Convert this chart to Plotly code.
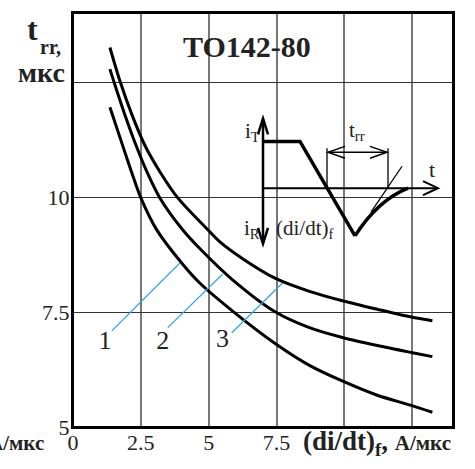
import plotly.graph_objects as go

# ---------------- data ----------------
x_curve1 = [1.36, 1.84, 2.17, 2.50, 3.08, 4.01, 4.67, 5.88, 7.46, 8.71, 9.96, 11.21, 12.46, 13.24]
y_curve1 = [11.95, 11.10, 10.52, 9.98, 9.29, 8.56, 8.13, 7.52, 6.81, 6.34, 5.99, 5.69, 5.47, 5.32]

x_curve2 = [1.36, 1.51, 1.91, 2.35, 2.72, 3.20, 4.01, 4.67, 5.88, 7.46, 8.71, 9.96, 11.21, 12.46, 13.24]
y_curve2 = [12.78, 12.50, 11.79, 11.08, 10.55, 9.98, 9.31, 8.88, 8.20, 7.50, 7.16, 6.94, 6.77, 6.62, 6.53]

x_curve3 = [1.36, 1.73, 2.17, 2.65, 3.20, 3.86, 4.93, 5.40, 6.25, 7.46, 8.71, 9.96, 11.21, 12.46, 13.24]
y_curve3 = [13.25, 12.52, 11.79, 11.12, 10.55, 9.98, 9.31, 9.03, 8.66, 8.23, 7.95, 7.74, 7.56, 7.39, 7.31]

curve_labels = ["1", "2", "3"]
label_x = [1.18, 3.31, 5.51]
label_y = [6.83, 6.83, 6.87]
leader_x = [[1.43, 3.93], [3.49, 5.51], [5.85, 7.72]]
leader_y = [[7.09, 8.56], [7.16, 8.32], [7.05, 8.13]]

x_tickvals = [0, 2.5, 5, 7.5, 10, 12.5]
x_ticktext = ["0", "2.5", "5", "7.5", "", ""]
y_tickvals = [5, 7.5, 10, 12.5]
y_ticktext = ["5", "7.5", "10", ""]

title_text = "TO142-80"

# ---------------- layout helpers ----------------
W, H = 475, 469
L, R, T, B = 73, 453, 11, 427
FONT = "Liberation Serif"
CYAN = "#29abe2"


def P(px, py):
    return ((px - L) / (R - L), (B - py) / (B - T))


def path(points):
    s = ""
    for i, (px, py) in enumerate(points):
        x, y = P(px, py)
        s += ("M" if i == 0 else "L") + f"{x:.5f},{y:.5f} "
    return s.strip()


def qpath(p0, c, p1):
    x0, y0 = P(*p0)
    cx, cy = P(*c)
    x1, y1 = P(*p1)
    return f"M{x0:.5f},{y0:.5f} Q{cx:.5f},{cy:.5f} {x1:.5f},{y1:.5f}"


fig = go.Figure()

for xs, ys in [(x_curve1, y_curve1), (x_curve2, y_curve2), (x_curve3, y_curve3)]:
    fig.add_trace(go.Scatter(x=xs, y=ys, mode="lines",
                             line=dict(color="black", width=3, shape="spline", smoothing=0.8),
                             hoverinfo="skip", showlegend=False))

for lx, ly in zip(leader_x, leader_y):
    fig.add_trace(go.Scatter(x=lx, y=ly, mode="lines", line=dict(color=CYAN, width=1.3),
                             hoverinfo="skip", showlegend=False))

fig.add_trace(go.Scatter(x=label_x, y=label_y, mode="text", text=curve_labels,
                         textfont=dict(family=FONT, size=26, color="#222"),
                         hoverinfo="skip", showlegend=False))

shapes = []
# white boxes that interrupt the grid
bx0, by0 = P(240, 109)
bx1, by1 = P(452, 251)
shapes.append(dict(type="rect", xref="paper", yref="paper", x0=bx0, y0=by1, x1=bx1, y1=by0,
                   fillcolor="white", line=dict(width=0), layer="between"))
tx0, ty0 = P(182, 24)
tx1, ty1 = P(330, 68)
shapes.append(dict(type="rect", xref="paper", yref="paper", x0=tx0, y0=ty1, x1=tx1, y1=ty0,
                   fillcolor="white", line=dict(width=0), layer="between"))
# plot frame
shapes.append(dict(type="rect", xref="paper", yref="paper", x0=0, y0=0, x1=1, y1=1,
                   line=dict(color="black", width=2), layer="above"))


def add_path(pts, width, color="black"):
    shapes.append(dict(type="path", xref="paper", yref="paper", path=path(pts),
                       line=dict(color=color, width=width), layer="above"))


# inset schematic
add_path([(263, 118), (263, 242)], 2.5)                  # vertical axis
add_path([(258, 133), (263, 117), (268, 133)], 2.5)       # up arrowhead
add_path([(258, 227), (263, 243), (268, 227)], 2.5)       # down arrowhead
add_path([(263, 187), (437, 187)], 2)                     # t axis
add_path([(423, 180), (438, 187), (423, 194)], 2)         # right arrowhead
add_path([(263, 140), (300, 140), (355, 235)], 3.5)       # current waveform
shapes.append(dict(type="path", xref="paper", yref="paper",
                   path=qpath((355, 235), (378, 199), (408, 187)),
                   line=dict(color="black", width=3.5), layer="above"))
add_path([(371, 211), (402, 165)], 1.3)                   # tangent
add_path([(327, 147), (327, 187)], 1.3)                   # trr markers
add_path([(388, 147), (388, 187)], 1.3)
add_path([(328, 151), (387, 151)], 1.5)                   # trr arrow
add_path([(345, 145), (328, 151), (345, 157)], 1.5)
add_path([(370, 145), (387, 151), (370, 157)], 1.5)

annotations = []


def ann(text, px, py, size, bold=False, xanchor="center", color="#222"):
    x, y = P(px, py)
    annotations.append(dict(text=f"<b>{text}</b>" if bold else text, x=x, y=y, xref="paper", yref="paper",
                            showarrow=False, xanchor=xanchor, yanchor="middle",
                            font=dict(family=FONT, size=size, color=color)))


ann("i<sub>T</sub>", 252, 131, 21)
ann("t<sub>rr</sub>", 357, 130, 21)
ann("t", 432, 168, 22)
ann("i<sub>R</sub>", 252, 228, 21)
ann("(di/dt)<sub>f</sub>", 305, 228, 21)

ann(title_text, 247, 45, 30, bold=True)

ann("t", 32, 27, 32, bold=True)
ann("rr,", 50, 45, 20, bold=True)
ann("мкс", 41, 71, 28, bold=True)

ann("(di/dt)<sub>f</sub>, <span style='font-size:21px'>A/мкс</span>", 377, 443, 27, bold=True)
ann("A/мкс", 46, 443, 21, bold=True, xanchor="right")

fig.update_layout(
    width=W, height=H,
    margin=dict(l=L, r=W - R, t=T, b=H - B),
    paper_bgcolor="white", plot_bgcolor="white",
    shapes=shapes, annotations=annotations,
    font=dict(family=FONT, size=22, color="#222"),
    xaxis=dict(range=[0, 14], tickvals=x_tickvals, ticktext=x_ticktext,
               showgrid=True, gridcolor="#777", gridwidth=1.5, zeroline=False,
               showline=True, linecolor="black", linewidth=2, mirror=True,
               ticks="", ticklabelstandoff=-5,
               tickfont=dict(family=FONT, size=22, color="#222")),
    yaxis=dict(range=[5, 14], tickvals=y_tickvals, ticktext=y_ticktext,
               showgrid=True, gridcolor="#333", gridwidth=1.2, zeroline=False,
               showline=True, linecolor="black", linewidth=2, mirror=True,
               ticks="", ticklabelstandoff=-3,
               tickfont=dict(family=FONT, size=22, color="#222")),
)

fig.write_html("out.html", config={"displayModeBar": False},
               post_script="document.body.style.margin='0px';document.body.style.overflow='hidden';")
